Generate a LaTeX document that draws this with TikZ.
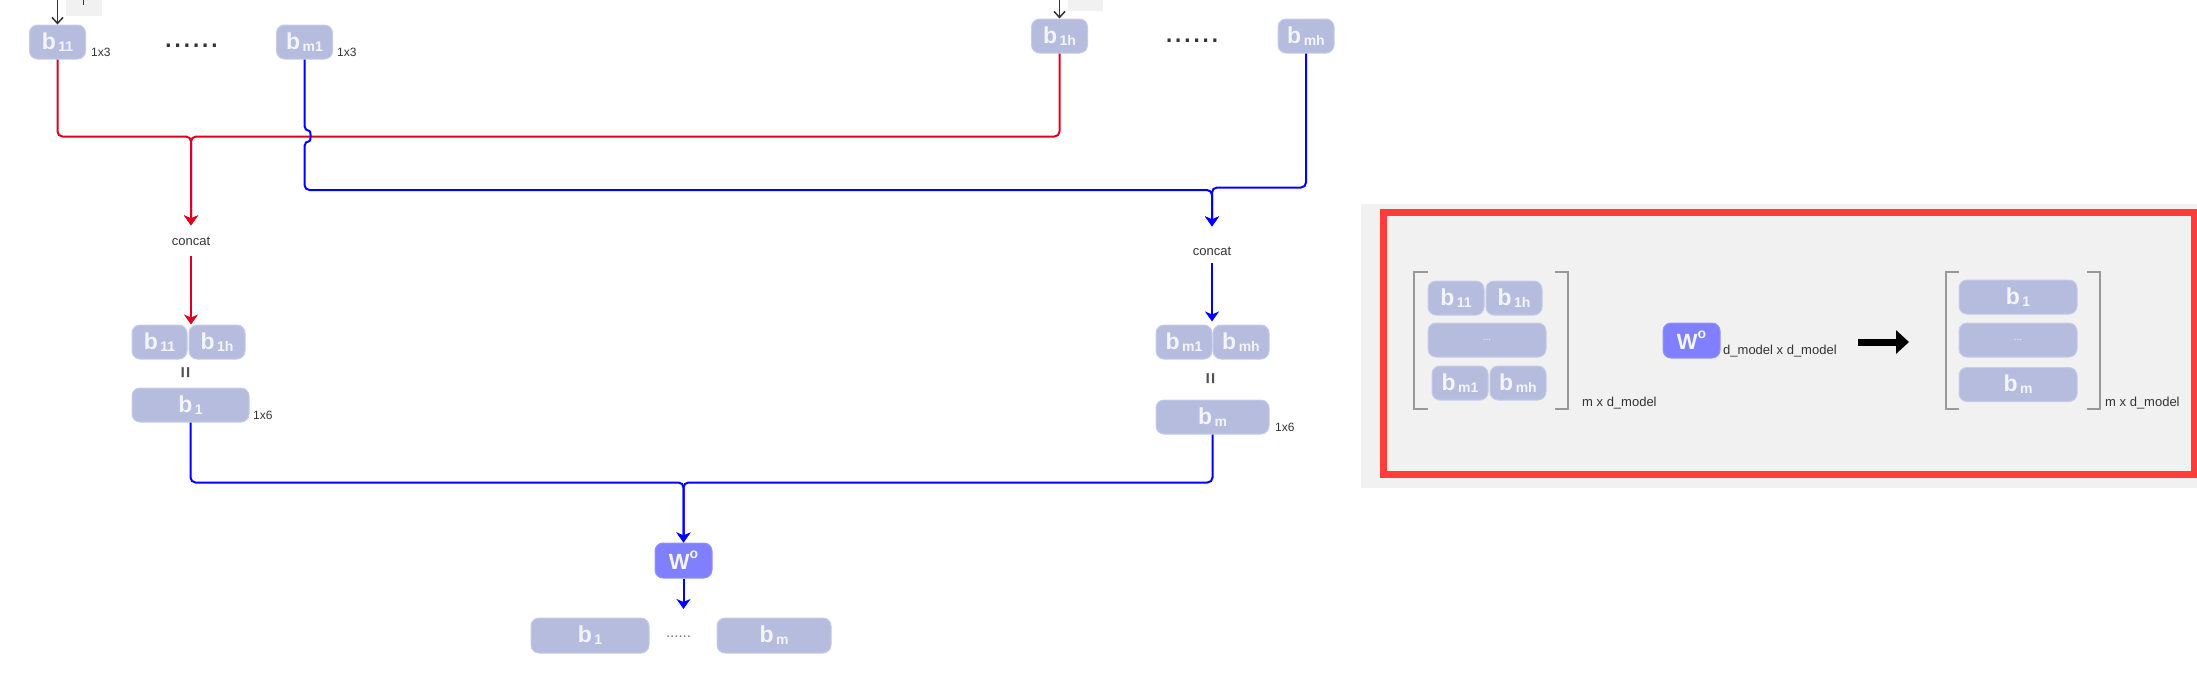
\documentclass[tikz,border=0pt]{standalone}
\usepackage{fontspec}
\setmainfont{Liberation Sans}
\usetikzlibrary{arrows.meta}
\definecolor{boxc}{HTML}{B5BCDE}
\definecolor{boxb}{HTML}{C6CBE8}
\definecolor{woc}{HTML}{8080FF}
\definecolor{redl}{HTML}{DD0020}
\definecolor{bluel}{HTML}{0000FF}
\definecolor{panelbg}{HTML}{F1F1F1}
\definecolor{panelred}{HTML}{FF3B3B}
\definecolor{txtd}{HTML}{333333}
\definecolor{lbl}{HTML}{F4F5FB}
\definecolor{brk}{HTML}{999999}
\newcommand\bsym[1]{{\fontsize{23}{23}\selectfont\bfseries b}\hspace{2.5pt}\raisebox{-2pt}{\fontsize{14}{14}\selectfont\bfseries #1}}
\newcommand\wsym{{\fontsize{22}{22}\selectfont\bfseries W}\raisebox{11pt}{\fontsize{14}{14}\selectfont\bfseries o}}
\tikzset{
  cellbox/.style={rounded corners=8pt, fill=boxc, draw=boxb, line width=1pt, inner sep=0pt,
    minimum height=34pt, minimum width=56pt, text=lbl},
  widebox/.style={cellbox, minimum width=117pt},
  wobox/.style={cellbox, fill=woc, draw=woc!85!white, minimum width=57pt, minimum height=35pt},
  lab/.style={inner sep=0pt, text=txtd, font=\fontsize{12}{12}\selectfont},
  clab/.style={inner sep=0pt, text=txtd, font=\fontsize{13}{13}\selectfont},
  eqs/.style={inner sep=0pt, text=txtd!85, font=\fontsize{20}{20}\selectfont\bfseries, rotate=90},
  redline/.style={draw=redl, line width=2pt, rounded corners=5pt},
  blueline/.style={draw=bluel, line width=2pt, rounded corners=5pt},
  arr/.style={-{Stealth[length=10pt,width=14pt,inset=3pt]}},
  darkarr/.style={draw=txtd, line width=1.5pt, -{Straight Barb[length=6pt,width=11pt,line width=1.5pt]}},
  bigdots/.style={inner sep=0pt, text=txtd, font=\fontsize{33}{33}\selectfont},
  brack/.style={draw=brk, line width=1.5pt},
}
\begin{document}
\begin{tikzpicture}[x=1pt, y=-1pt]
\useasboundingbox (0,0) rectangle (2197,697);

% ---- top row ----
\fill[panelbg] (66,0) rectangle (102,16);
\fill[panelbg] (1068,0) rectangle (1103,11);
\draw[txtd, line width=1pt] (83,0) -- (83,5);

\node[cellbox] (b11) at (57.5,42) {\bsym{11}};
\node[cellbox] (bm1) at (304.5,42) {\bsym{m1}};
\node[cellbox] (b1h) at (1059.5,36) {\bsym{1h}};
\node[cellbox] (bmh) at (1306,36) {\bsym{mh}};
\node[lab, anchor=base west] (s1) at (91,56) {1x3};
\node[lab, anchor=base west] (s2) at (337,56) {1x3};
\node[bigdots, anchor=base] (d1) at (191.5,47) {......};
\node[bigdots, anchor=base] (d2) at (1192,42) {......};

\coordinate (in1) at (57.5,0);
\coordinate (in2) at (1059.5,0);
\draw[darkarr] (in1) -- (b11.north);
\draw[darkarr] (in2) -- (b1h.north);

% ---- concat labels ----
\node[clab, anchor=base] (cl) at (191,245) {concat};
\node[clab, anchor=base] (cr) at (1212,255) {concat};

% ---- red routing ----
\draw[redline, arr, shorten >=11pt] (b11.south) -- ++(0,77) -| (cl.north);
\draw[redline, arr, shorten >=11pt] (b1h.south) -- ++(0,83) -| (cl.north);

% ---- blue routing (with hop over red) ----
\draw[blueline, arr, shorten >=20pt] (bm1.south) -- (304.5,131)
   .. controls (311,131) and (311,141) .. (304.5,141) -- (304.5,190) -| (cr.north);
\draw[blueline, arr, shorten >=20pt] (bmh.south) -- ++(0,134) -| (cr.north);

% ---- middle left ----
\node[cellbox, minimum width=55pt] (p11) at (159.5,342) {\bsym{11}};
\node[cellbox] (p1h) at (217,342) {\bsym{1h}};
\node[eqs] (eqL) at (187,373) {=};
\node[widebox] (b1) at (190.5,405) {\bsym{1}};
\node[lab, anchor=base west] (s3) at (253,419) {1x6};
\draw[redline, arr, shorten <=11pt] (cl.south) -- (cl.south |- p11.north);

% ---- middle right ----
\node[cellbox] (pm1) at (1184,342) {\bsym{m1}};
\node[cellbox] (pmh) at (1241,342) {\bsym{mh}};
\node[eqs] (eqR) at (1212,379) {=};
\node[widebox, minimum width=113pt] (bm) at (1212.5,417) {\bsym{m}};
\node[lab, anchor=base west] (s4) at (1275,431) {1x6};
\draw[blueline, arr, shorten <=8pt, shorten >=3pt] (cr.south) -- (cr.south |- pm1.north);

% ---- bottom ----
\node[wobox] (wo) at (683.5,560.5) {\wsym};
\draw[blueline, arr] (b1.south) -- ++(0,60) -| (wo.north);
\draw[blueline, arr] (bm.south) -- ++(0,48) -| (wo.north);
\coordinate (wout) at (683.5,609);
\draw[blueline, arr] (wo.south) -- (wout);
\node[widebox, minimum width=118pt, minimum height=35pt] (ob1) at (590,635.5) {\bsym{1}};
\node[widebox, minimum width=114pt, minimum height=35pt] (obm) at (774,635.5) {\bsym{m}};
\node[inner sep=0pt, text=black!55, font=\fontsize{15}{15}\selectfont, anchor=base] (d3) at (678.5,637) {......};

% ---- right panel ----
\fill[panelbg] (1361,204) rectangle (2197,488);
\draw[panelred, line width=7pt] (1383.5,212.5) rectangle (2194,474);

\draw[brack] (1428,272) -- (1414,272) -- (1414,409) -- (1428,409);
\draw[brack] (1555,272) -- (1568,272) -- (1568,409) -- (1555,409);
\node[cellbox] (m11) at (1456,298) {\bsym{11}};
\node[cellbox] (m1h) at (1514,298) {\bsym{1h}};
\node[widebox, minimum width=118pt] (mdots) at (1487,340) {\fontsize{10}{10}\selectfont ...};
\node[cellbox] (mm1) at (1460,383) {\bsym{m1}};
\node[cellbox] (mmh) at (1518,383) {\bsym{mh}};
\node[clab, anchor=base west] (md1) at (1582,406) {m x d\_model};

\node[wobox] (wo2) at (1691.5,340.5) {\wsym};
\node[clab, anchor=base west] (wd) at (1723,354) {d\_model x d\_model};

\coordinate (pa1) at (1858,342);
\coordinate (pa2) at (1909,342);
\draw[black, line width=7pt, -{Triangle[length=13pt,width=23pt]}] (pa1) -- (pa2);

\draw[brack] (1959,272) -- (1946,272) -- (1946,409) -- (1959,409);
\draw[brack] (2087,272) -- (2100,272) -- (2100,409) -- (2087,409);
\node[widebox, minimum width=118pt] (rb1) at (2018,297) {\bsym{1}};
\node[widebox, minimum width=118pt] (rdots) at (2018,340) {\fontsize{10}{10}\selectfont ...};
\node[widebox, minimum width=118pt] (rbm) at (2018,384.5) {\bsym{m}};
\node[clab, anchor=base west] (md2) at (2105,406) {m x d\_model};
\end{tikzpicture}
\end{document}
